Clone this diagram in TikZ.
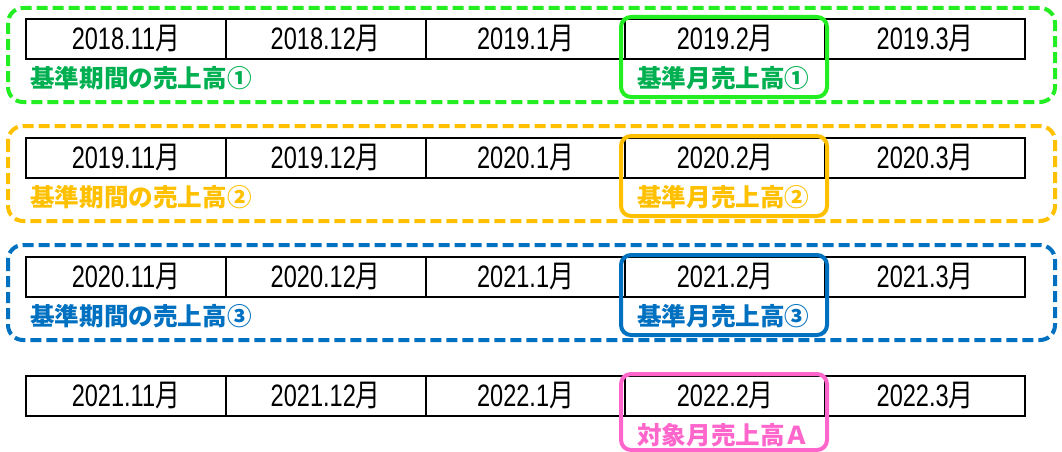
\documentclass[tikz,border=0pt]{standalone}
\usepackage{fontspec}
\newfontfamily\numfont[FakeStretch=0.76]{Liberation Sans}
\newfontfamily\cjkn[FakeStretch=0.8]{Noto Sans CJK JP}
\newfontfamily\cjk{Noto Sans CJK JP}
\definecolor{gbox}{HTML}{22EE22}
\definecolor{gtxt}{HTML}{00B050}
\definecolor{obox}{HTML}{FFC000}
\definecolor{bbox}{HTML}{0070C0}
\definecolor{pbox}{HTML}{FF66CC}
\newcommand{\mon}{{\cjkn 月}}
\begin{document}
\begin{tikzpicture}[x=1pt,y=-1pt,
  cell/.style={draw=black, line width=2pt, minimum width=199.8pt, minimum height=40pt,
    inner sep=0pt, anchor=north west, font=\numfont\fontsize{31}{31}\selectfont},
  dashbox/.style={line width=4pt, dash pattern=on 11pt off 5pt, rounded corners=15pt},
  hlbox/.style={line width=4pt, rounded corners=10pt},
  lbl/.style={anchor=west, inner sep=0pt, font=\cjk\bfseries\fontsize{24.6}{24.6}\selectfont}]
\useasboundingbox (0,0) rectangle (1062,452);
% outer dashed frames
\draw[dashbox, draw=gbox] (8,8) rectangle (1055,102);
\draw[dashbox, draw=obox] (8,126) rectangle (1055,221);
\draw[dashbox, draw=bbox] (8,245) rectangle (1055,340);
% tables
\foreach \r/\T/\a/\b in {1/18/2018/2019, 2/137/2019/2020, 3/256/2020/2021, 4/375/2021/2022}{
  \node[cell] (r\r c1) at (25,\T) {\a.11\mon};
  \node[cell] (r\r c2) at (224.8,\T) {\a.12\mon};
  \node[cell] (r\r c3) at (424.6,\T) {\b.1\mon};
  \node[cell] (r\r c4) at (624.4,\T) {\b.2\mon};
  \node[cell] (r\r c5) at (824.2,\T) {\b.3\mon};
}
% highlight boxes
\draw[hlbox, draw=gbox] (621,17) rectangle (827,97);
\draw[hlbox, draw=obox] (621,136) rectangle (827,216);
\draw[hlbox, draw=bbox] (621,255) rectangle (827,335);
\draw[hlbox, draw=pbox] (621,374) rectangle (827,450);
% labels
\node[lbl, text=gtxt] (l1) at (30,78) {基準期間の売上高①};
\node[lbl, text=gtxt] (m1) at (637,78) {基準月売上高①};
\node[lbl, text=obox] (l2) at (30,197) {基準期間の売上高②};
\node[lbl, text=obox] (m2) at (637,197) {基準月売上高②};
\node[lbl, text=bbox] (l3) at (30,316) {基準期間の売上高③};
\node[lbl, text=bbox] (m3) at (637,316) {基準月売上高③};
\node[lbl, text=pbox] (m4) at (637,435) {対象月売上高Ａ};
\end{tikzpicture}
\end{document}
